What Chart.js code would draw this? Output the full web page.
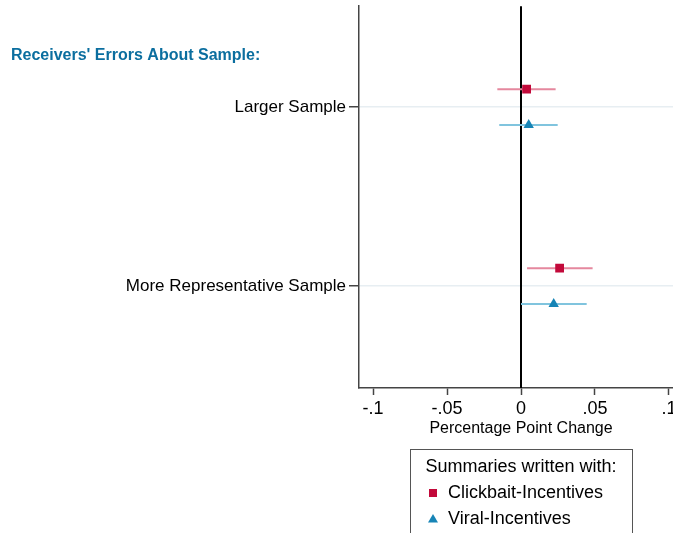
<!DOCTYPE html>
<html>
<head>
<meta charset="utf-8">
<script src="https://cdn.jsdelivr.net/npm/chart.js@4.4.1/dist/chart.umd.min.js"></script>
<style>
  html, body { margin: 0; padding: 0; background: #fff; overflow: hidden; }
  #wrap { position: absolute; left: 0; top: 0; width: 700px; height: 560px; }
</style>
</head>
<body>
<div id="wrap"><canvas id="c" width="700" height="560"></canvas></div>
<script>
// Outcome categories (top to bottom) and the group heading above them
const groupHeading = "Receivers' Errors About Sample:";
const categories = ['Larger Sample', 'More Representative Sample'];

// Series names
const seriesNames = ['Clickbait-Incentives', 'Viral-Incentives'];

// Point estimates and 95% interval bounds (percentage point change), per category
const clickbaitEst = [0.0038, 0.0261];
const clickbaitLo  = [-0.0160, 0.0041];
const clickbaitHi  = [0.0234, 0.0484];

const viralEst = [0.0052, 0.0221];
const viralLo  = [-0.0147, 0.0000];
const viralHi  = [0.0248, 0.0444];

// X axis ticks
const xTickValues = [-0.1, -0.05, 0, 0.05, 0.1];
const xTickLabels = ['-.1', '-.05', '0', '.05', '.1'];
const xTitle = 'Percentage Point Change';
const legendTitle = 'Summaries written with:';

// Styling
const FONT = "'Liberation Sans', Arial, Helvetica, sans-serif";
const RED = '#c2093a';
const RED_BAR = '#e5889e';
const BLUE = '#1684b6';
const BLUE_BAR = '#80c4de';
const OFFSET = 0.1; // vertical shift of each series around its category line

const catPos = categories.map((_, i) => i + 1);

function markers(est, shift) {
  return est.map((v, i) => ({ x: v, y: catPos[i] + shift }));
}
function bars(lo, hi, shift) {
  const pts = [];
  lo.forEach((l, i) => {
    if (i > 0) pts.push({ x: null, y: null });
    pts.push({ x: l, y: catPos[i] + shift });
    pts.push({ x: hi[i], y: catPos[i] + shift });
  });
  return pts;
}

// Vertical reference line at zero, the group heading and the legend box
const extras = {
  id: 'extras',
  beforeDatasetsDraw(chart) {
    const { ctx, chartArea, scales } = chart;
    const x0 = scales.x.getPixelForValue(0);
    ctx.save();
    ctx.strokeStyle = '#000';
    ctx.lineWidth = 2;
    ctx.beginPath();
    ctx.moveTo(x0, chartArea.top);
    ctx.lineTo(x0, chartArea.bottom);
    ctx.stroke();
    ctx.restore();
  },
  afterDraw(chart) {
    const { ctx, scales, chartArea } = chart;
    ctx.save();
    ctx.fillStyle = '#0b6e9f';
    ctx.font = 'bold 16px ' + FONT;
    ctx.textAlign = 'left';
    ctx.textBaseline = 'middle';
    ctx.fillText(groupHeading, 11, scales.y.getPixelForValue(0.71));
    ctx.restore();

    const items = chart.data.datasets.filter(d => d.legendItem);
    const boxL = chartArea.left + 51;
    const boxT = chartArea.bottom + 61;
    const boxW = 222;
    const boxH = 120;
    ctx.save();
    ctx.strokeStyle = '#555';
    ctx.lineWidth = 1;
    ctx.strokeRect(boxL + 0.5, boxT + 0.5, boxW, boxH);
    ctx.fillStyle = '#000';
    ctx.font = '18px ' + FONT;
    ctx.textBaseline = 'middle';
    ctx.textAlign = 'center';
    ctx.fillText(legendTitle, boxL + boxW / 2, boxT + 18);
    ctx.textAlign = 'left';
    items.forEach((d, i) => {
      const cy = boxT + 44 + i * 26;
      const cx = boxL + 23;
      ctx.fillStyle = d.backgroundColor;
      if (d.pointStyle === 'rect') {
        ctx.fillRect(cx - 4, cy - 4, 8, 8);
      } else {
        ctx.beginPath();
        ctx.moveTo(cx, cy - 5);
        ctx.lineTo(cx + 5, cy + 3.5);
        ctx.lineTo(cx - 5, cy + 3.5);
        ctx.closePath();
        ctx.fill();
      }
      ctx.fillStyle = '#000';
      ctx.fillText(d.label, boxL + 38, cy);
    });
    ctx.restore();
  }
};

new Chart(document.getElementById('c'), {
  type: 'scatter',
  data: {
    datasets: [
      { type: 'line', data: bars(clickbaitLo, clickbaitHi, -OFFSET), borderColor: RED_BAR, borderWidth: 2,
        pointRadius: 0, spanGaps: false, order: 2 },
      { type: 'line', data: bars(viralLo, viralHi, OFFSET), borderColor: BLUE_BAR, borderWidth: 2,
        pointRadius: 0, spanGaps: false, order: 2 },
      { label: seriesNames[0], legendItem: true, data: markers(clickbaitEst, -OFFSET), pointStyle: 'rect',
        pointRadius: 6.2, backgroundColor: RED, borderColor: RED, borderWidth: 0, order: 1 },
      { label: seriesNames[1], legendItem: true, data: markers(viralEst, OFFSET), pointStyle: 'triangle',
        pointRadius: 6, backgroundColor: BLUE, borderColor: BLUE, borderWidth: 0, order: 1 }
    ]
  },
  options: {
    responsive: false,
    animation: false,
    devicePixelRatio: 1,
    layout: { padding: { left: 0, right: 17, top: 6, bottom: 122 } },
    plugins: { legend: { display: false }, tooltip: { enabled: false } },
    scales: {
      x: {
        type: 'linear',
        min: -0.1095,
        max: 0.1095,
        afterBuildTicks(scale) { scale.ticks = xTickValues.map(v => ({ value: v })); },
        afterFit(scale) { scale.height = 50; scale.paddingLeft = 0; scale.paddingRight = 0; },
        ticks: {
          callback: (v) => xTickLabels[xTickValues.indexOf(v)],
          color: '#000', font: { family: FONT, size: 18 }, padding: 3, maxRotation: 0, autoSkip: false
        },
        grid: { drawOnChartArea: false, tickLength: 7, tickColor: '#444', tickWidth: 1.5 },
        border: { color: '#444', width: 1.5 },
        title: { display: true, text: xTitle, color: '#000', font: { family: FONT, size: 16 }, padding: { top: 0, bottom: 0 } }
      },
      y: {
        type: 'linear',
        reverse: true,
        min: 0.436,
        max: 2.57,
        afterBuildTicks(scale) { scale.ticks = catPos.map(v => ({ value: v })); },
        afterFit(scale) { scale.width = 359; scale.paddingTop = 0; scale.paddingBottom = 0; },
        ticks: {
          callback: (v) => categories[catPos.indexOf(v)],
          color: '#000', font: { family: FONT, size: 17 }, padding: 3, autoSkip: false
        },
        grid: { color: '#e7eef2', lineWidth: 1.5, tickLength: 10, tickColor: '#444', tickWidth: 1.5 },
        border: { color: '#444', width: 1.5 }
      }
    }
  },
  plugins: [extras]
});
</script>
</body>
</html>
